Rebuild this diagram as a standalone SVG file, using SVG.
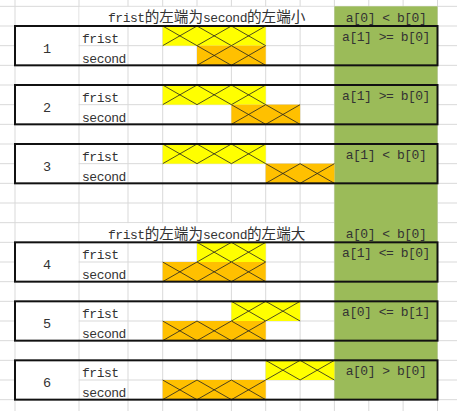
<svg xmlns="http://www.w3.org/2000/svg" width="457" height="411" viewBox="0 0 457 411">
<style>
.grid{stroke:#d9d9d9;stroke-width:1;fill:none}
.box{fill:none;stroke:#111;stroke-width:2}
.yel{fill:#ffff00}
.org{fill:#ffc000}
.x{stroke:#222;stroke-width:0.8;fill:none}
.t{font-family:"Liberation Mono","DejaVu Sans Mono",monospace;font-size:13px;letter-spacing:-0.48px;fill:#333}
.c{font-family:"Noto Sans CJK SC","Noto Sans CJK JP",sans-serif;font-size:14.6px;letter-spacing:0}
.num{text-anchor:middle;font-size:13.5px;letter-spacing:0}
.g{text-anchor:middle}
.wh{fill:#fff}
</style>
<rect width="457" height="411" fill="#fff"/>
<g id="grid">
<path class="grid" d="M15 0V411M79 0V411M128 0V411M162.7 0V411M197 0V411M231.4 0V411M265.7 0V411M300.1 0V411M334.4 0V411M368.8 0V411M403.1 0V411M437.5 0V411
M0 6.33H457M0 26H457M0 45.67H457M0 65.33H457M0 85H457M0 104.67H457M0 124.33H457M0 144H457M0 163.67H457M0 183.33H457M0 203H457M0 222.67H457M0 242.33H457M0 262H457M0 281.67H457M0 301.33H457M0 321H457M0 340.67H457M0 360.33H457M0 380H457M0 399.67H457"/>
<rect class="wh" x="79.5" y="6.83" width="254.4" height="18.7"/>
<rect class="wh" x="79.5" y="223.17" width="254.4" height="18.7"/>
</g>
<rect id="condition-column" x="334.4" y="6.33" width="103.1" height="393.34" fill="#9bbb59"/>
<g id="heading-1">
<text class="t" x="206.7" y="22" text-anchor="middle">frist<tspan class="c">的左端为</tspan>second<tspan class="c">的左端小</tspan></text>
<text class="t g" x="386" y="21.7">a[0] &lt; b[0]</text>
</g>
<g id="heading-2">
<text class="t" x="206.7" y="238.6" text-anchor="middle">frist<tspan class="c">的左端为</tspan>second<tspan class="c">的左端大</tspan></text>
<text class="t g" x="386" y="238.2">a[0] &lt; b[0]</text>
</g>
<g id="case-1">
<rect class="wh" x="15.5" y="27" width="63" height="37.3"/>
<rect class="yel" x="162.7" y="26" width="103" height="19.67"/>
<path class="x" d="M162.7 26L197 45.67M162.7 45.67L197 26M197 26L231.4 45.67M197 45.67L231.4 26M231.4 26L265.7 45.67M231.4 45.67L265.7 26"/>
<rect class="org" x="197" y="45.67" width="68.7" height="19.66"/>
<path class="x" d="M197 45.67L231.4 65.33M197 65.33L231.4 45.67M231.4 45.67L265.7 65.33M231.4 65.33L265.7 45.67"/>
<rect class="box" x="15" y="26" width="422.5" height="39.33"/>
<text class="t num" x="47" y="52.7">1</text>
<text class="t" x="82" y="43">frist</text>
<text class="t" x="82" y="62.8">second</text>
<text class="t g" x="386" y="40.8">a[1] &gt;= b[0]</text>
</g>
<g id="case-2">
<rect class="wh" x="15.5" y="86" width="63" height="37.3"/>
<rect class="yel" x="162.7" y="85" width="103" height="19.67"/>
<path class="x" d="M162.7 85L197 104.67M162.7 104.67L197 85M197 85L231.4 104.67M197 104.67L231.4 85M231.4 85L265.7 104.67M231.4 104.67L265.7 85"/>
<rect class="org" x="231.4" y="104.67" width="68.7" height="19.66"/>
<path class="x" d="M231.4 104.67L265.7 124.33M231.4 124.33L265.7 104.67M265.7 104.67L300.1 124.33M265.7 124.33L300.1 104.67"/>
<rect class="box" x="15" y="85" width="422.5" height="39.33"/>
<text class="t num" x="47" y="111.6">2</text>
<text class="t" x="82" y="102">frist</text>
<text class="t" x="82" y="121.8">second</text>
<text class="t g" x="386" y="99.9">a[1] &gt;= b[0]</text>
</g>
<g id="case-3">
<rect class="wh" x="15.5" y="145" width="63" height="37.3"/>
<rect class="yel" x="162.7" y="144" width="103" height="19.67"/>
<path class="x" d="M162.7 144L197 163.67M162.7 163.67L197 144M197 144L231.4 163.67M197 163.67L231.4 144M231.4 144L265.7 163.67M231.4 163.67L265.7 144"/>
<rect class="org" x="265.7" y="163.67" width="68.7" height="19.66"/>
<path class="x" d="M265.7 163.67L300.1 183.33M265.7 183.33L300.1 163.67M300.1 163.67L334.4 183.33M300.1 183.33L334.4 163.67"/>
<rect class="box" x="15" y="144" width="422.5" height="39.33"/>
<text class="t num" x="47" y="170.6">3</text>
<text class="t" x="82" y="161">frist</text>
<text class="t" x="82" y="180.8">second</text>
<text class="t g" x="386" y="159">a[1] &lt; b[0]</text>
</g>
<g id="case-4">
<rect class="wh" x="15.5" y="243.33" width="63" height="37.3"/>
<rect class="yel" x="197" y="242.33" width="68.7" height="19.67"/>
<path class="x" d="M197 242.33L231.4 262M197 262L231.4 242.33M231.4 242.33L265.7 262M231.4 262L265.7 242.33"/>
<rect class="org" x="162.7" y="262" width="103" height="19.67"/>
<path class="x" d="M162.7 262L197 281.67M162.7 281.67L197 262M197 262L231.4 281.67M197 281.67L231.4 262M231.4 262L265.7 281.67M231.4 281.67L265.7 262"/>
<rect class="box" x="15" y="242.33" width="422.5" height="39.33"/>
<text class="t num" x="47" y="268.9">4</text>
<text class="t" x="82" y="259.3">frist</text>
<text class="t" x="82" y="279.1">second</text>
<text class="t g" x="386" y="257.3">a[1] &lt;= b[0]</text>
</g>
<g id="case-5">
<rect class="wh" x="15.5" y="302.33" width="63" height="37.3"/>
<rect class="yel" x="231.4" y="301.33" width="68.7" height="19.67"/>
<path class="x" d="M231.4 301.33L265.7 321M231.4 321L265.7 301.33M265.7 301.33L300.1 321M265.7 321L300.1 301.33"/>
<rect class="org" x="162.7" y="321" width="103" height="19.67"/>
<path class="x" d="M162.7 321L197 340.67M162.7 340.67L197 321M197 321L231.4 340.67M197 340.67L231.4 321M231.4 321L265.7 340.67M231.4 340.67L265.7 321"/>
<rect class="box" x="15" y="301.33" width="422.5" height="39.33"/>
<text class="t num" x="47" y="327.9">5</text>
<text class="t" x="82" y="318.3">frist</text>
<text class="t" x="82" y="338.1">second</text>
<text class="t g" x="386" y="316.3">a[0] &lt;= b[1]</text>
</g>
<g id="case-6">
<rect class="wh" x="15.5" y="361.33" width="63" height="37.3"/>
<rect class="yel" x="265.7" y="360.33" width="68.7" height="19.67"/>
<path class="x" d="M265.7 360.33L300.1 380M265.7 380L300.1 360.33M300.1 360.33L334.4 380M300.1 380L334.4 360.33"/>
<rect class="org" x="162.7" y="380" width="103" height="19.67"/>
<path class="x" d="M162.7 380L197 399.67M162.7 399.67L197 380M197 380L231.4 399.67M197 399.67L231.4 380M231.4 380L265.7 399.67M231.4 399.67L265.7 380"/>
<rect class="box" x="15" y="360.33" width="422.5" height="39.33"/>
<text class="t num" x="47" y="386.9">6</text>
<text class="t" x="82" y="377.3">frist</text>
<text class="t" x="82" y="397.1">second</text>
<text class="t g" x="386" y="375.3">a[0] &gt; b[0]</text>
</g>
<g id="connectors"/>
</svg>
